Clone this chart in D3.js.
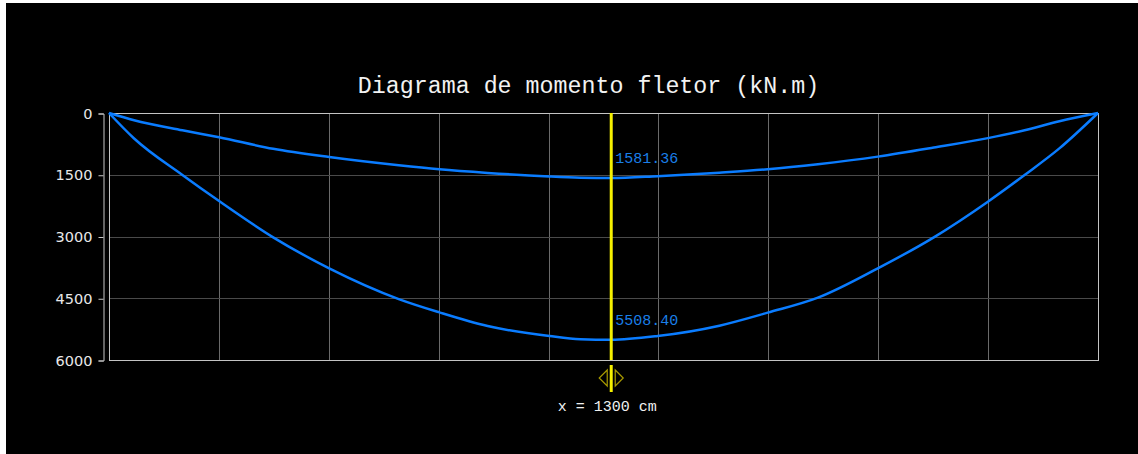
<!DOCTYPE html>
<html>
<head>
<meta charset="utf-8">
<script src="https://cdn.jsdelivr.net/npm/d3@7"></script>
<style>
  html, body { margin: 0; padding: 0; background: #ffffff; }
  svg { display: block; }
</style>
</head>
<body>
<svg id="chart" width="1138" height="454"></svg>
<script>
// ---- data ----
const positions   = [0, 65, 190, 285, 425, 570, 750, 855, 980, 1140, 1220, 1300, 1420, 1580, 1705, 1835, 1990, 2135, 2275, 2370, 2460, 2560]; // cm
const upperMoment = [0, 175, 420, 590, 870, 1070, 1270, 1368, 1455, 1540, 1570, 1581.36, 1535, 1450, 1368, 1245, 1060, 840, 610, 420, 200, 0]; // kN.m
const lowerMoment = [0, 620, 1506, 2140, 3020, 3774, 4520, 4842, 5175, 5417, 5495, 5508.40, 5417, 5166, 4850, 4486, 3774, 3020, 2154, 1506, 860, 0]; // kN.m
const yTicks      = [0, 1500, 3000, 4500, 6000];
const beamLength  = 2560;
const gridDivisions = 9;
const cursorX     = 1300;
const cursorValues = [1581.36, 5508.40];
const titleText   = "Diagrama de momento fletor (kN.m)";

// ---- drawing ----
(function () {
const svg = d3.select("#chart");
svg.append("rect").attr("x", 6).attr("y", 3).attr("width", 1132).attr("height", 451).attr("fill", "#000");

const pL = 109, pR = 1098, pT = 113, pB = 360;
const x = d3.scaleLinear().domain([0, beamLength]).range([pL, pR]);
const y = d3.scaleLinear().domain([0, 6000]).range([pT, pB]);

// title
svg.append("text")
  .attr("x", 588.5).attr("y", 93)
  .attr("text-anchor", "middle")
  .attr("font-family", "'Liberation Mono', 'DejaVu Sans Mono', monospace")
  .attr("font-size", 23.3)
  .attr("fill", "#f2f2f2")
  .text(titleText);

// grid
const grid = svg.append("g");
grid.selectAll("line.v")
  .data(d3.range(1, gridDivisions).map(i => beamLength * i / gridDivisions))
  .join("line").attr("class", "v")
  .attr("x1", d => Math.round(x(d)) + 0.5).attr("x2", d => Math.round(x(d)) + 0.5)
  .attr("y1", pT).attr("y2", pB)
  .attr("stroke", "#6a6a6a").attr("stroke-width", 1);
grid.selectAll("line.h")
  .data(yTicks.slice(1, -1))
  .join("line").attr("class", "h")
  .attr("x1", pL).attr("x2", pR)
  .attr("y1", d => Math.round(y(d)) + 0.5).attr("y2", d => Math.round(y(d)) + 0.5)
  .attr("stroke", "#4a4a4a").attr("stroke-width", 1);

// frame
svg.append("rect")
  .attr("x", pL + 0.5).attr("y", pT + 0.5)
  .attr("width", pR - pL).attr("height", pB - pT)
  .attr("fill", "none").attr("stroke", "#c4c4c4").attr("stroke-width", 1);

// y axis
const yAxis = svg.append("g")
  .attr("transform", "translate(103.5,0.5)")
  .call(d3.axisLeft(y).tickValues(yTicks).tickSize(5).tickPadding(6).tickFormat(d3.format("d")));
yAxis.select(".domain").attr("stroke", "#c8c8c8");
yAxis.selectAll(".tick line").attr("stroke", "#c8c8c8");
yAxis.selectAll(".tick text")
  .attr("fill", "#e8e8e8")
  .attr("font-family", "'DejaVu Sans', sans-serif")
  .attr("font-size", 14.5);

// curves
const line = d3.line().x(d => x(d[0])).y(d => y(d[1])).curve(d3.curveMonotoneX);
[upperMoment, lowerMoment].forEach(series => {
  svg.append("path")
    .datum(positions.map((p, i) => [p, series[i]]))
    .attr("d", line)
    .attr("fill", "none")
    .attr("stroke", "#0a7cff")
    .attr("stroke-width", 2.5)
    .attr("stroke-linejoin", "round");
});

// cursor
const cx = x(cursorX);
svg.append("line")
  .attr("x1", cx).attr("x2", cx).attr("y1", pT).attr("y2", pB)
  .attr("stroke", "#f5f000").attr("stroke-width", 3);
svg.append("line")
  .attr("x1", cx).attr("x2", cx).attr("y1", 365).attr("y2", 392)
  .attr("stroke", "#f5f000").attr("stroke-width", 3);
svg.append("path")
  .attr("d", `M${cx - 4},370 L${cx - 12},378 L${cx - 4},386 Z`)
  .attr("fill", "none").attr("stroke", "#a89a00").attr("stroke-width", 1.2);
svg.append("path")
  .attr("d", `M${cx + 4},370 L${cx + 12},378 L${cx + 4},386 Z`)
  .attr("fill", "none").attr("stroke", "#a89a00").attr("stroke-width", 1.2);

svg.selectAll("text.val")
  .data(cursorValues)
  .join("text").attr("class", "val")
  .attr("x", cx + 4)
  .attr("y", d => y(d) - 15)
  .attr("font-family", "'Liberation Mono', 'DejaVu Sans Mono', monospace")
  .attr("font-size", 15)
  .attr("fill", "#1a7fe8")
  .text(d => d.toFixed(2));

svg.append("text")
  .attr("x", cx - 4).attr("y", 411)
  .attr("text-anchor", "middle")
  .attr("font-family", "'Liberation Mono', 'DejaVu Sans Mono', monospace")
  .attr("font-size", 15)
  .attr("fill", "#f0f0f0")
  .text(`x = ${cursorX} cm`);
})();
</script>
</body>
</html>
